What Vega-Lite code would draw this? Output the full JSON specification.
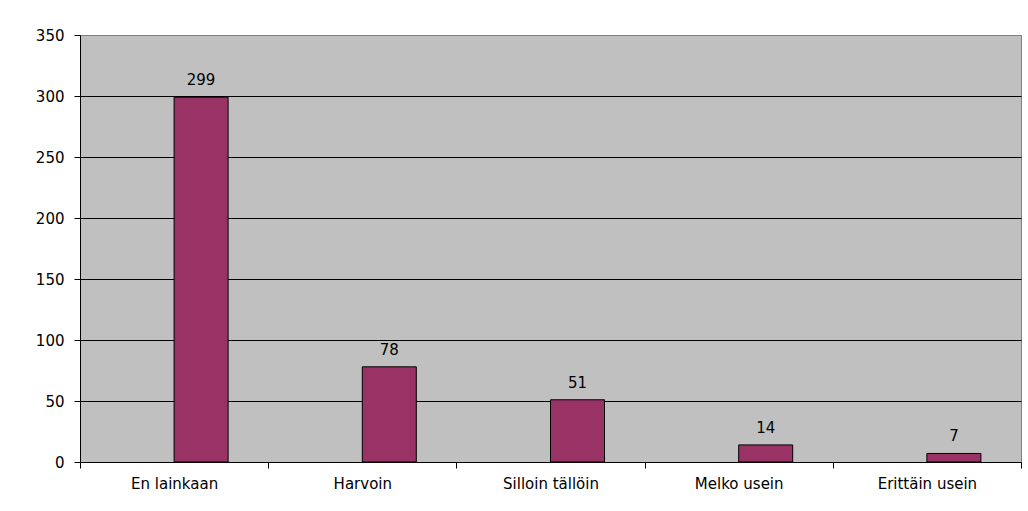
{
  "$schema": "https://vega.github.io/schema/vega-lite/v6.json",
  "width": 941,
  "height": 427,
  "autosize": {"type": "none"},
  "padding": {"left": 80, "top": 35, "right": 7, "bottom": 49},
  "background": "white",
  "config": {
    "font": "DejaVu Sans",
    "view": {"fill": "#C0C0C0", "stroke": "#808080", "strokeWidth": 1}
  },
  "data": {
    "values": [
      {"vastaus": "En lainkaan", "lkm": 299},
      {"vastaus": "Harvoin", "lkm": 78},
      {"vastaus": "Silloin tällöin", "lkm": 51},
      {"vastaus": "Melko usein", "lkm": 14},
      {"vastaus": "Erittäin usein", "lkm": 7}
    ]
  },
  "encoding": {
    "x": {
      "field": "vastaus",
      "type": "nominal",
      "sort": null,
      "scale": {"paddingInner": 0, "paddingOuter": 0},
      "axis": {
        "title": null,
        "labelAngle": 0,
        "labelFontSize": 15,
        "labelColor": "black",
        "labelPadding": 8,
        "tickBand": "extent",
        "tickSize": 6,
        "tickColor": "black",
        "domainColor": "black",
        "grid": false
      }
    },
    "y": {
      "field": "lkm",
      "type": "quantitative",
      "scale": {"domain": [0, 350], "nice": false},
      "axis": {
        "title": null,
        "values": [0, 50, 100, 150, 200, 250, 300, 350],
        "labelFontSize": 15,
        "labelColor": "black",
        "labelPadding": 10,
        "tickSize": 6,
        "tickColor": "black",
        "domainColor": "black",
        "grid": true,
        "gridColor": {"condition": {"test": "datum.value == 350", "value": "#808080"}, "value": "black"},
        "gridOpacity": 1
      }
    }
  },
  "layer": [
    {
      "mark": {"type": "bar", "width": 54, "xOffset": 27, "color": "#993366", "stroke": "black", "strokeWidth": 1}
    },
    {
      "mark": {"type": "text", "xOffset": 27, "dy": -9, "baseline": "bottom", "fontSize": 15, "color": "black"},
      "encoding": {"text": {"field": "lkm", "type": "quantitative"}}
    }
  ]
}
